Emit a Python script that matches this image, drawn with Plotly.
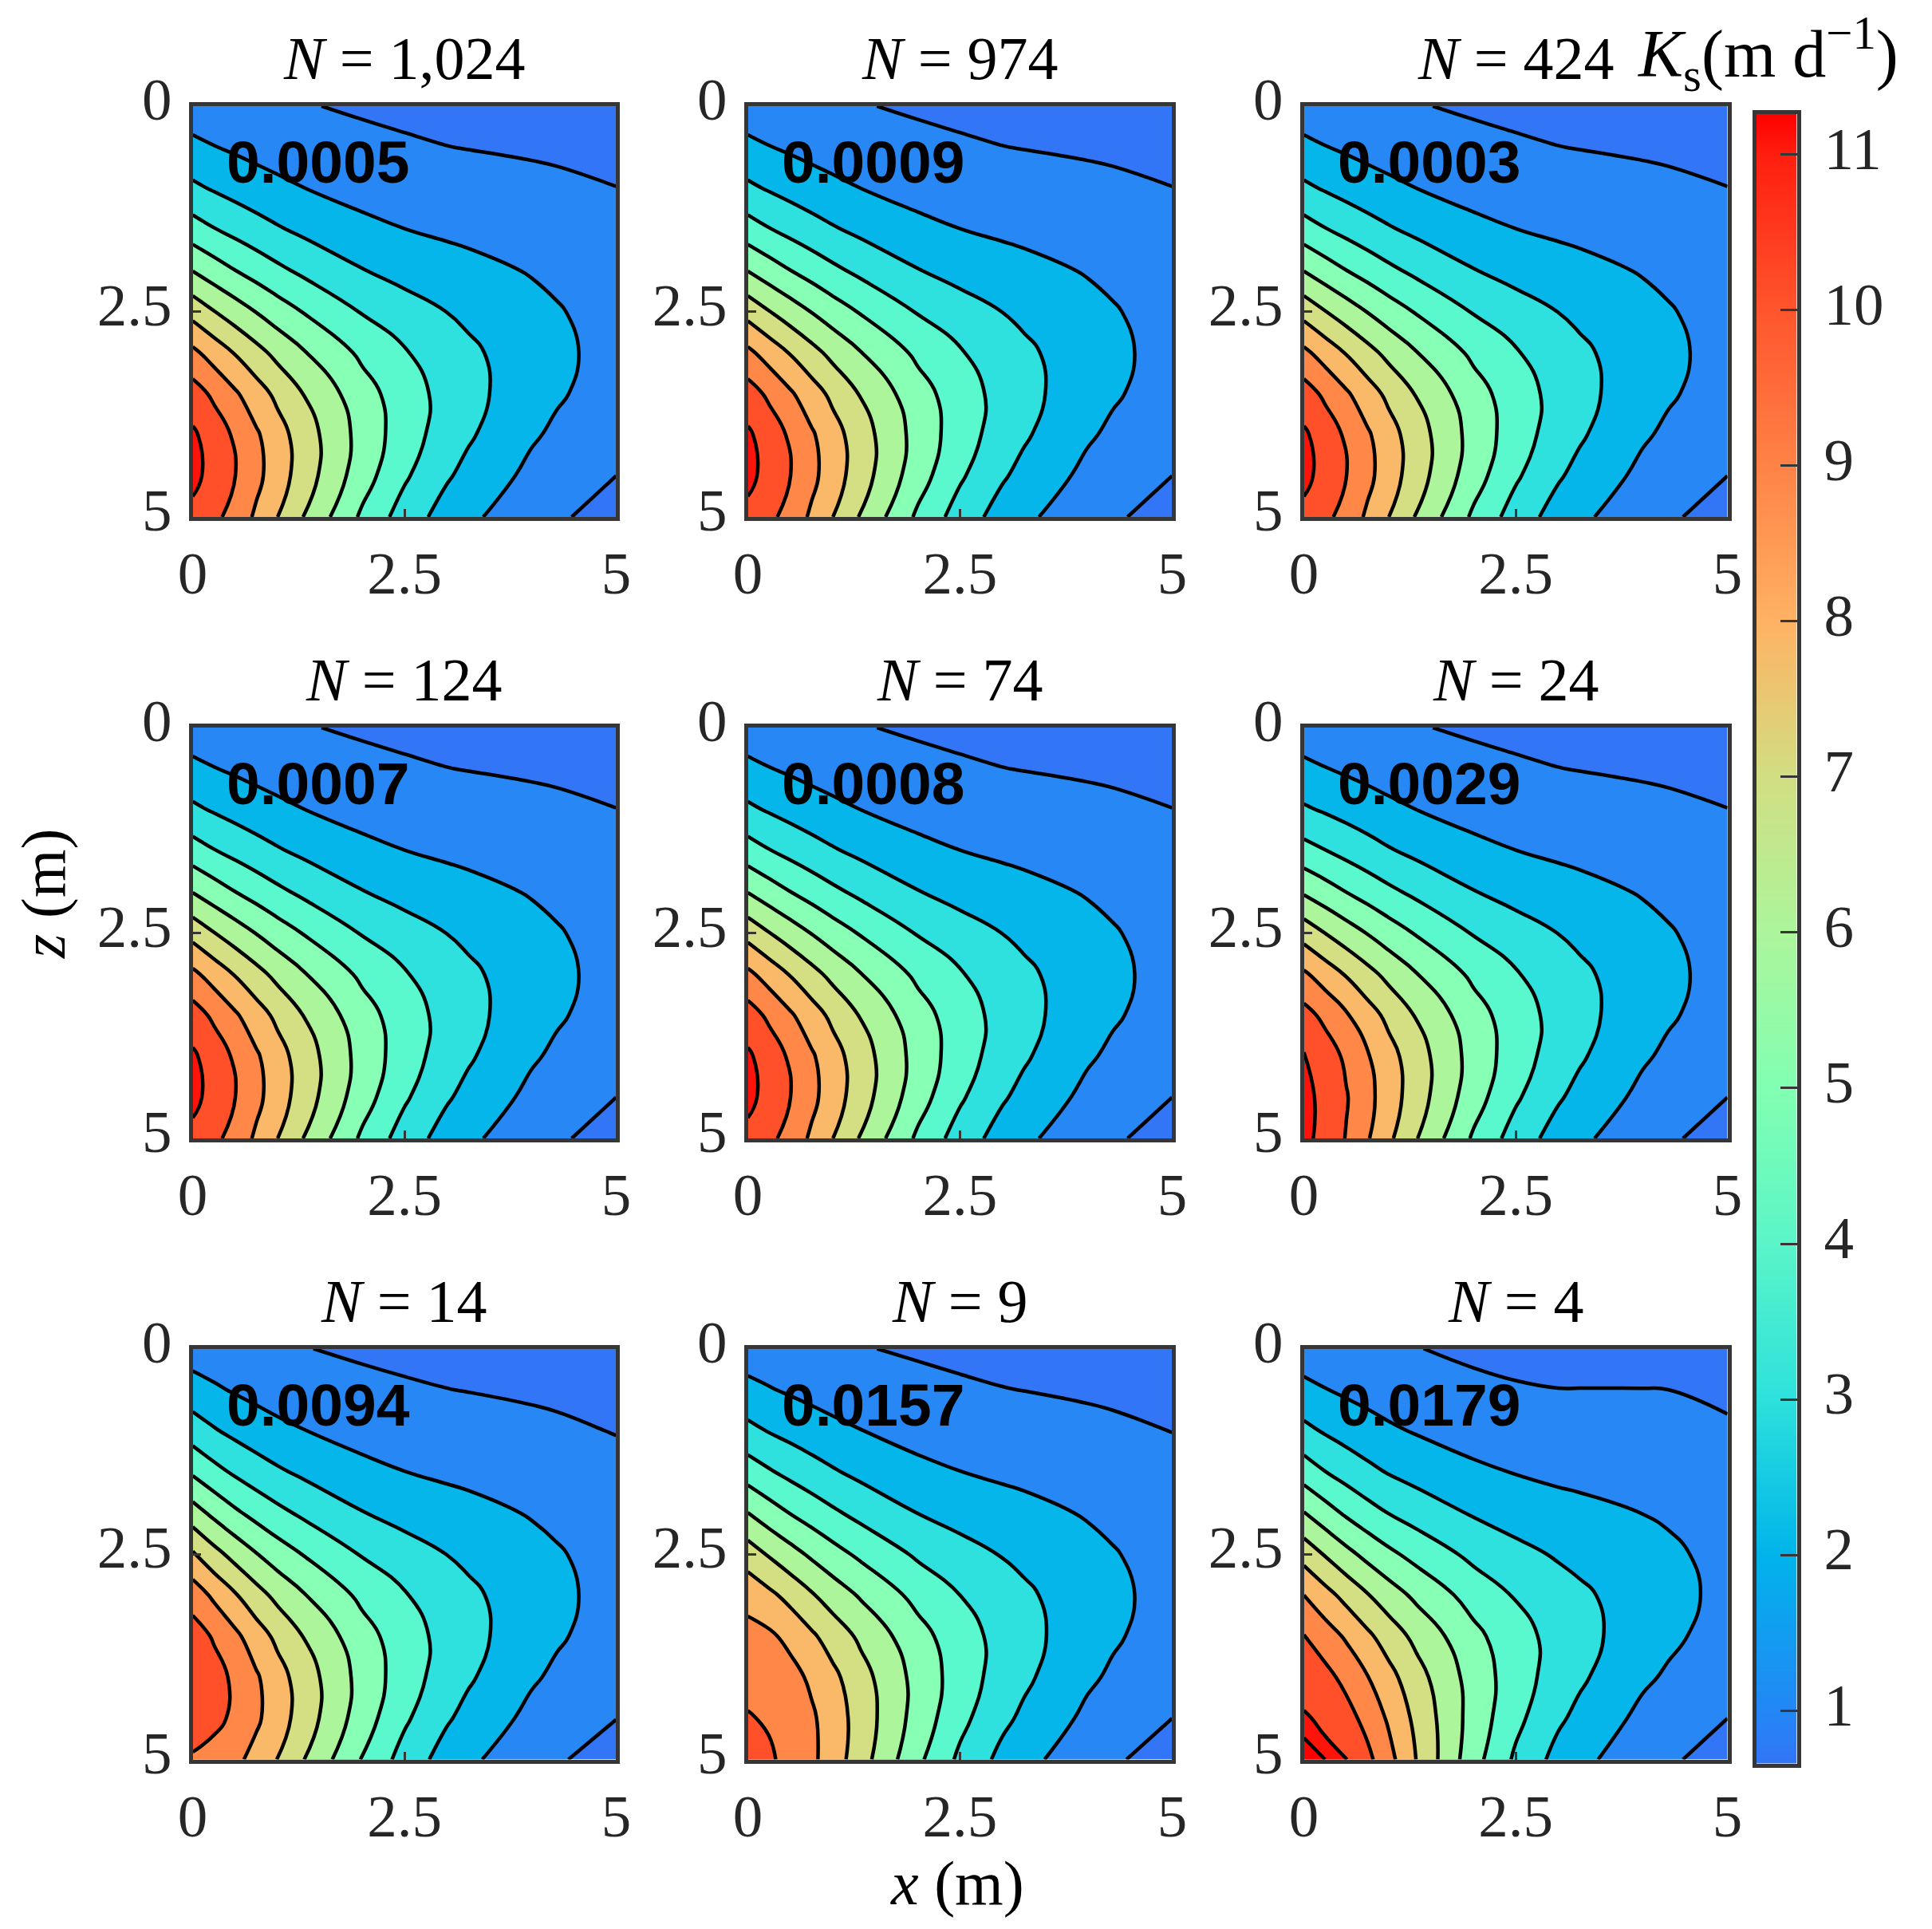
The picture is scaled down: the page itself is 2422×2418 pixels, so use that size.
import numpy as np
import plotly.graph_objects as go

W, H = 2422, 2418
titles = ["1,024", "974", "424", "124", "74", "24", "14", "9", "4"]
errors = ["0.0005", "0.0009", "0.0003", "0.0007", "0.0008", "0.0029", "0.0094", "0.0157", "0.0179"]

x_nodes = [0, .25, .5, .75, 1, 1.33, 2, 2.5, 3, 3.25, 4, 4.3, 5]
z_nodes = [0, .5, 1, 1.5, 2, 2.5, 3, 3.5, 4, 4.5, 5]

# Each inner list is one x column, top (z=0) to bottom (z=5)
field_fine = [
    [1.47,2.23,3.19,4.44,5.97,7.64,9.22,10.44,11.15,11.25,10.75],
    [1.39,2.03,2.91,4.05,5.46,7.03,8.57,9.81,10.54,10.67,10.25],
    [1.30,1.86,2.65,3.71,5.01,6.48,7.94,9.13,9.85,10.01,9.61],
    [1.21,1.70,2.42,3.39,4.60,5.97,7.32,8.44,9.13,9.26,8.84],
    [1.13,1.57,2.22,3.10,4.21,5.48,6.72,7.77,8.40,8.48,8.01],
    [1.04,1.43,2.00,2.78,3.77,4.92,6.03,6.94,7.45,7.45,6.91],
    [.90,1.21,1.65,2.26,3.04,3.94,4.80,5.41,5.64,5.44,4.83],
    [.82,1.10,1.49,2.01,2.67,3.41,4.08,4.47,4.48,4.14,3.55],
    [.76,1.01,1.38,1.84,2.39,2.99,3.47,3.66,3.52,3.11,2.57],
    [.74,.98,1.33,1.77,2.27,2.80,3.19,3.31,3.13,2.72,2.21],
    [.69,.90,1.21,1.57,1.94,2.27,2.45,2.40,2.12,1.75,1.34],
    [.68,.87,1.15,1.48,1.80,2.07,2.20,2.11,1.83,1.49,1.11],
    [.65,.79,1.01,1.25,1.46,1.61,1.66,1.56,1.31,1.00,.67],
]
field_n24 = [
    [1.48,2.21,3.13,4.35,5.88,7.58,9.15,10.34,11.07,11.25,11.27],
    [1.39,2.03,2.90,4.03,5.42,6.99,8.52,9.76,10.49,10.75,10.66],
    [1.30,1.86,2.66,3.70,4.99,6.45,7.92,9.10,9.82,10.07,9.95],
    [1.21,1.71,2.43,3.39,4.59,5.96,7.31,8.42,9.09,9.29,9.09],
    [1.13,1.57,2.22,3.09,4.21,5.48,6.72,7.75,8.36,8.49,8.20],
    [1.04,1.43,2.00,2.77,3.78,4.92,6.03,6.93,7.43,7.46,7.04],
    [.90,1.21,1.65,2.26,3.04,3.94,4.80,5.41,5.63,5.44,4.87],
    [.82,1.10,1.49,2.01,2.67,3.41,4.08,4.47,4.48,4.14,3.56],
    [.76,1.01,1.38,1.84,2.39,2.99,3.47,3.66,3.52,3.11,2.57],
    [.74,.98,1.33,1.77,2.27,2.80,3.19,3.31,3.13,2.72,2.21],
    [.69,.90,1.21,1.57,1.94,2.27,2.45,2.40,2.12,1.75,1.34],
    [.68,.87,1.15,1.48,1.80,2.07,2.20,2.11,1.83,1.49,1.11],
    [.65,.79,1.01,1.25,1.46,1.61,1.66,1.56,1.31,1.00,.67],
]
field_n14 = [
    [1.51,2.41,3.51,4.85,6.43,8.11,9.55,10.46,10.81,10.59,9.87],
    [1.42,2.13,3.09,4.30,5.76,7.33,8.81,9.90,10.37,10.26,9.62],
    [1.32,1.91,2.75,3.85,5.17,6.65,8.09,9.22,9.81,9.81,9.24],
    [1.20,1.72,2.47,3.46,4.68,6.04,7.37,8.47,9.12,9.17,8.67],
    [1.11,1.57,2.23,3.14,4.25,5.50,6.73,7.77,8.39,8.47,7.98],
    [1.02,1.42,2.01,2.80,3.79,4.92,6.02,6.93,7.46,7.48,6.96],
    [.88,1.20,1.65,2.26,3.04,3.93,4.77,5.39,5.65,5.49,4.94],
    [.81,1.09,1.49,2.01,2.67,3.41,4.07,4.46,4.48,4.16,3.61],
    [.76,1.01,1.37,1.84,2.39,2.99,3.47,3.66,3.52,3.11,2.57],
    [.74,.98,1.33,1.77,2.28,2.80,3.20,3.32,3.13,2.71,2.20],
    [.69,.89,1.19,1.56,1.94,2.28,2.45,2.40,2.12,1.74,1.31],
    [.67,.85,1.13,1.47,1.80,2.08,2.20,2.11,1.83,1.48,1.08],
    [.64,.76,.97,1.23,1.46,1.62,1.66,1.56,1.31,1.01,.67],
]
field_n9 = [
    [1.47,2.27,3.26,4.52,6.01,7.50,8.65,9.33,9.74,10.06,10.37],
    [1.39,2.06,2.95,4.10,5.45,6.90,8.22,9.17,9.65,9.91,10.12],
    [1.30,1.88,2.69,3.73,4.97,6.35,7.69,8.74,9.33,9.61,9.74],
    [1.20,1.72,2.45,3.40,4.55,5.83,7.10,8.16,8.83,9.15,9.21],
    [1.12,1.58,2.24,3.10,4.16,5.35,6.54,7.57,8.24,8.53,8.52],
    [1.04,1.45,2.02,2.76,3.71,4.80,5.89,6.81,7.38,7.57,7.43],
    [.90,1.23,1.67,2.24,2.99,3.85,4.70,5.36,5.67,5.60,5.22],
    [.82,1.11,1.50,2.01,2.64,3.35,4.00,4.44,4.52,4.28,3.80],
    [.76,1.02,1.39,1.84,2.38,2.95,3.43,3.66,3.57,3.22,2.72],
    [.74,.99,1.34,1.77,2.27,2.78,3.17,3.33,3.19,2.82,2.32],
    [.69,.90,1.20,1.56,1.93,2.26,2.45,2.41,2.16,1.79,1.35],
    [.68,.86,1.14,1.46,1.79,2.06,2.20,2.12,1.86,1.50,1.10],
    [.65,.78,.99,1.23,1.46,1.61,1.66,1.55,1.31,1.00,.67],
]
field_n4 = [
    [1.47,2.25,3.25,4.52,6.04,7.61,9.00,10.04,10.71,11.07,11.26],
    [1.39,2.03,2.90,4.02,5.41,6.92,8.34,9.47,10.30,10.88,11.16],
    [1.30,1.84,2.61,3.60,4.85,6.28,7.69,8.87,9.72,10.37,11.03],
    [1.20,1.68,2.36,3.24,4.37,5.71,7.06,8.20,9.04,9.68,10.25],
    [1.11,1.54,2.14,2.94,3.98,5.21,6.47,7.54,8.32,8.87,9.33],
    [1.02,1.39,1.93,2.64,3.57,4.67,5.78,6.73,7.38,7.75,7.97],
    [.86,1.16,1.60,2.18,2.91,3.75,4.60,5.27,5.59,5.60,5.38],
    [.79,1.06,1.46,1.96,2.58,3.27,3.93,4.38,4.47,4.26,3.83],
    [.75,1.01,1.36,1.80,2.34,2.90,3.40,3.65,3.54,3.16,2.67],
    [.74,1.01,1.33,1.75,2.25,2.75,3.17,3.33,3.16,2.76,2.28],
    [.71,1.01,1.24,1.60,1.99,2.34,2.53,2.47,2.16,1.75,1.34],
    [.70,1.00,1.20,1.53,1.88,2.17,2.30,2.19,1.88,1.49,1.11],
    [.66,.87,1.09,1.31,1.53,1.70,1.75,1.60,1.33,1.00,.67],
]
panel_fields = [field_fine, field_fine, field_fine, field_fine, field_fine,
                field_n24, field_n14, field_n9, field_n4]

band_colors = ["#3375F7", "#2687F5", "#05B6EB", "#2FE1DE", "#5AF8CD", "#87FFB4",
               "#ACF59B", "#D4DE82", "#FAB969", "#FF8748", "#FF502A", "#FF140C"]
cbar_values = [0.66, 1, 2, 3, 4, 5, 6, 7, 8, 9, 10, 11, 11.26]
cbar_colors = ["#3375F7", "#2387F5", "#00B4EB", "#2DE1DC", "#5AF5C8", "#82FFB2",
               "#ACF59B", "#D2DE82", "#FFB264", "#FF8246", "#FF552D", "#FF1E0F", "#FF0000"]

col_px = [(241.6, 772.4), (937.5, 1469.4), (1634.6, 2165.6)]
row_px = [(133, 648), (912, 1427), (1690.5, 2205.5)]
cbar_x_px = (2201.5, 2252.5)
cbar_y_px = (142.8, 2210.6)
INK = "#262626"
FRAME = "#363636"
SERIF = "Liberation Serif"
FS = 75
LW = 4.5

fig = go.Figure()
scale = [[i / 11, c] for i, c in enumerate(band_colors)]
layout = {}
ann = []

def X(p): return p / W
def Y(p): return 1 - p / H

for i, fld in enumerate(panel_fields):
    r, c = i // 3, i % 3
    k = i + 1
    suffix = "" if k == 1 else str(k)
    fig.add_trace(go.Contour(
        x=x_nodes, y=z_nodes, z=np.array(fld).T, xaxis=f"x{suffix}", yaxis=f"y{suffix}",
        autocontour=False, contours=dict(start=1, end=11, size=1, coloring="fill"),
        colorscale=scale, zauto=False, zmin=0.5, zmax=11.5, showscale=False,
        line=dict(color="black", width=LW, smoothing=1.3), hoverinfo="skip"))
    if k == 9:
        fig.add_trace(go.Contour(
            x=x_nodes, y=z_nodes, z=np.array(fld).T, xaxis=f"x{suffix}", yaxis=f"y{suffix}",
            autocontour=False, contours=dict(start=11.16, end=11.16, size=1, coloring="fill"),
            colorscale=[[0, "rgba(0,0,0,0)"], [1, "#FF0000"]], showscale=False,
            line=dict(color="black", width=LW, smoothing=1.3), hoverinfo="skip"))
    x0, x1 = col_px[c]
    y0, y1 = row_px[r]
    common = dict(showgrid=False, zeroline=False, showline=True, mirror=True, linecolor=FRAME,
                  linewidth=5, ticks="inside", ticklen=10, tickwidth=3, tickcolor=FRAME,
                  tickvals=[0, 2.5, 5], ticktext=["0", "2.5", "5"], automargin=False,
                  tickfont=dict(family=SERIF, size=FS, color=INK))
    layout[f"xaxis{suffix}"] = dict(common, domain=[X(x0), X(x1)], range=[0, 5],
                                    anchor=f"y{suffix}", ticklabelstandoff=1)
    layout[f"yaxis{suffix}"] = dict(common, domain=[Y(y1), Y(y0)], range=[5, 0],
                                    anchor=f"x{suffix}", ticklabelstandoff=6, ticklabelshift=9)
    ann.append(dict(xref="paper", yref="paper", x=X((x0 + x1) / 2), y=Y(y0 - 60),
                    text=f"<i>N</i> = {titles[i]}", showarrow=False, xanchor="center", yanchor="middle",
                    font=dict(family=SERIF, size=76, color="black")))
    ann.append(dict(xref=f"x{suffix}", yref=f"y{suffix}", x=0.42, y=0.68,
                    text=f"<b>{errors[i]}</b>", showarrow=False, xanchor="left", yanchor="middle",
                    xshift=-4, font=dict(family="Liberation Sans", size=75, color="black")))

# colour bar
ys = np.linspace(0.66, 11.26, 213)
fig.add_trace(go.Heatmap(
    x=[0, 1], y=ys, z=np.column_stack([ys, ys]), xaxis="x10", yaxis="y10", zsmooth="best",
    zmin=0.66, zmax=11.26, showscale=False, hoverinfo="skip",
    colorscale=[[(v - 0.66) / 10.6, col] for v, col in zip(cbar_values, cbar_colors)]))
layout["xaxis10"] = dict(domain=[X(cbar_x_px[0]), X(cbar_x_px[1])], range=[0, 1], anchor="y10",
                         showticklabels=False, ticks="", showgrid=False, zeroline=False, automargin=False,
                         showline=True, mirror=True, linecolor=FRAME, linewidth=5)
layout["yaxis10"] = dict(domain=[Y(cbar_y_px[1]), Y(cbar_y_px[0])], range=[0.66, 11.26], anchor="x10",
                         side="right", tickvals=list(range(1, 12)), ticks="inside", ticklen=21,
                         tickwidth=3, tickcolor=FRAME, showgrid=False, zeroline=False, showline=True,
                         mirror=True, linecolor=FRAME, linewidth=5, ticklabelstandoff=14, automargin=False,
                         ticklabelshift=-8, tickfont=dict(family=SERIF, size=FS, color=INK))

ann.append(dict(xref="paper", yref="paper", x=X(2051), y=Y(68), xanchor="left", yanchor="middle",
                text="<i>K</i><sub>s</sub>(m d<sup>\u22121</sup>)", showarrow=False,
                font=dict(family=SERIF, size=84, color="black")))
ann.append(dict(xref="paper", yref="paper", x=X(1200), y=Y(2360), xanchor="center", yanchor="middle",
                text="<i>x</i> (m)", showarrow=False, font=dict(family=SERIF, size=78, color="black")))
ann.append(dict(xref="paper", yref="paper", x=X(54), y=Y(1121), xanchor="center", yanchor="middle",
                text="<i>z</i> (m)", textangle=-90, showarrow=False,
                font=dict(family=SERIF, size=78, color="black")))

fig.update_layout(width=W, height=H, margin=dict(l=0, r=0, t=0, b=0), paper_bgcolor="white",
                  plot_bgcolor="white", showlegend=False, annotations=ann, **layout)
fig.write_html("out.html", config={"displayModeBar": False},
               post_script="document.body.style.margin='0';document.documentElement.style.overflow='hidden';")
